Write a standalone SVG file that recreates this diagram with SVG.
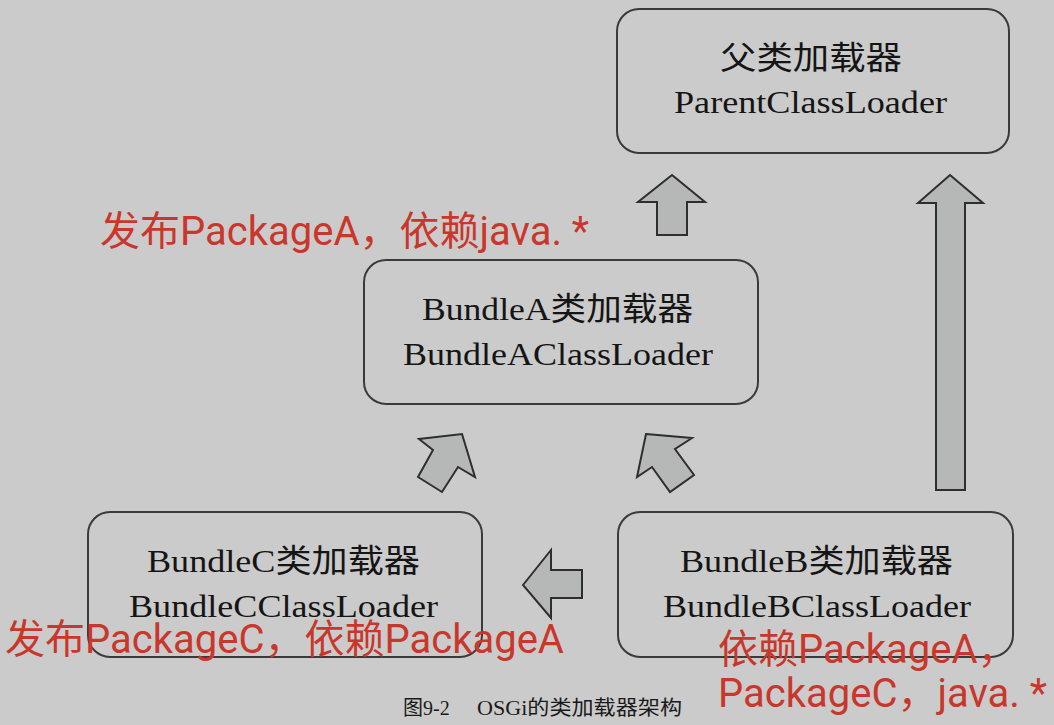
<svg xmlns="http://www.w3.org/2000/svg" width="1054" height="725" viewBox="0 0 1054 725">
<style>
.box{fill:#cbcbcb;stroke:#3a3a3a;stroke-width:2}
.arr{fill:#b6b8b8;stroke:#2e2e2e;stroke-width:2;stroke-linejoin:miter}
.t{font-family:"Liberation Serif","Noto Sans CJK SC",serif;font-size:32px;fill:#151515;text-anchor:middle}
.r{font-family:Roboto,"Noto Sans CJK SC",sans-serif;font-size:40px;fill:#c9372c}
.cap{font-family:"Liberation Serif","Noto Sans CJK SC",serif;font-size:20px;fill:#1a1a1a}
</style>
<rect width="1054" height="725" fill="#cbcbcb"/>
<g id="parent">
<rect class="box" x="617" y="9" width="392" height="144" rx="22"/>
<text class="t" x="811" y="69" font-size="34" textLength="182" lengthAdjust="spacingAndGlyphs">父类加载器</text>
<text class="t" x="810.5" y="113" textLength="273" lengthAdjust="spacingAndGlyphs">ParentClassLoader</text>
</g>
<g id="bundleA">
<rect class="box" x="364" y="260" width="394" height="144" rx="22"/>
<text class="t" x="557.5" y="320" textLength="271" lengthAdjust="spacingAndGlyphs">BundleA类加载器</text>
<text class="t" x="558" y="365" textLength="310" lengthAdjust="spacingAndGlyphs">BundleAClassLoader</text>
</g>
<g id="bundleC">
<rect class="box" x="88" y="512" width="394" height="145" rx="22"/>
<text class="t" x="283.5" y="572" textLength="273" lengthAdjust="spacingAndGlyphs">BundleC类加载器</text>
<text class="t" x="283.5" y="617" textLength="309" lengthAdjust="spacingAndGlyphs">BundleCClassLoader</text>
</g>
<g id="bundleB">
<rect class="box" x="618" y="512" width="395" height="145" rx="22"/>
<text class="t" x="816.5" y="572" textLength="273" lengthAdjust="spacingAndGlyphs">BundleB类加载器</text>
<text class="t" x="817" y="617" textLength="308" lengthAdjust="spacingAndGlyphs">BundleBClassLoader</text>
</g>
<g id="connectors">
<polygon class="arr" points="672,175 705,202 687,202 687,235 657,235 657,202 638,202"/>
<polygon class="arr" points="950,175 983,203 965,203 965,490 936,490 936,203 918,203"/>
<polygon class="arr" points="462,434 475,477 458,467 442,492 418,477 433,450 419,439"/>
<polygon class="arr" points="646,434 692,438 675,449 694,475 670,492 652,467 637,477"/>
<polygon class="arr" points="523,585 551,550 551,570 582,570 582,598 551,598 551,618"/>
</g>
<g id="notes">
<text class="r" x="100" y="245">发布PackageA，依赖java. *</text>
<text class="r" x="5" y="653">发布PackageC，依赖PackageA</text>
<text class="r" x="718" y="663">依赖PackageA，</text>
<text class="r" x="718" y="707">PackageC，java. *</text>
</g>
<g id="caption">
<text class="cap" x="403" y="715">图9-2</text>
<text class="cap" x="477" y="715" textLength="205" lengthAdjust="spacingAndGlyphs">OSGi的类加载器架构</text>
</g>
</svg>
